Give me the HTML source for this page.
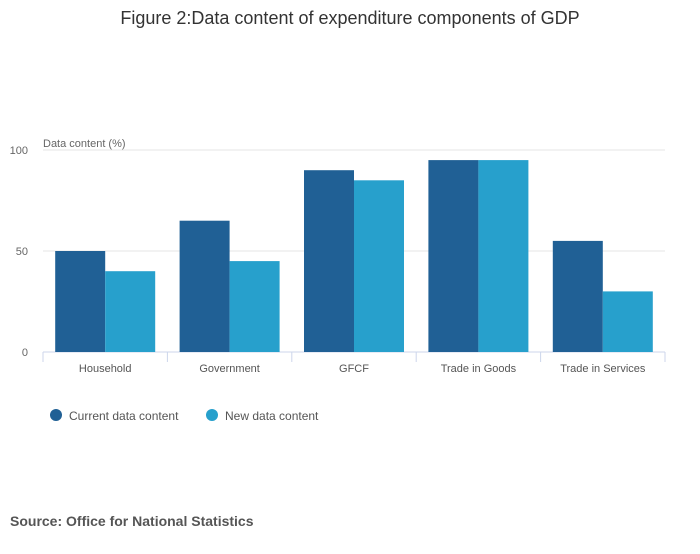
<!DOCTYPE html>
<html><head><meta charset="utf-8"><style>
body{margin:0;background:#fff;font-family:"Liberation Sans",sans-serif;}
</style></head><body>
<svg width="700" height="549" xmlns="http://www.w3.org/2000/svg" id="chart">
<text x="350" y="24" text-anchor="middle" font-size="18" fill="#333">Figure 2:Data content of expenditure components of GDP</text>
<text x="43" y="147" font-size="11" fill="#666">Data content (%)</text>
<text x="10" y="526" font-size="14" font-weight="bold" fill="#555">Source: Office for National Statistics</text>
<g id="grid"></g><g id="bars"></g><g id="axis"></g><g id="legend"></g>
</svg>
<script>
const categories=["Household","Government","GFCF","Trade in Goods","Trade in Services"];
const currentValues=[50,65,90,95,55];
const newValues=[40,45,85,95,30];
const yTicks=[0,50,100];
const seriesNames=["Current data content","New data content"];
const colors=["#206095","#27a0cc"];
const NS="http://www.w3.org/2000/svg";
const x0=43,x1=665,y0=352,y1=150;
const y=v=>y0-(v/100)*(y0-y1);
const cw=(x1-x0)/categories.length;
const bw=50;
function mk(t,a,p){const e=document.createElementNS(NS,t);for(const k in a)e.setAttribute(k,a[k]);p.appendChild(e);return e;}
const grid=document.getElementById('grid'),bars=document.getElementById('bars'),axis=document.getElementById('axis'),legend=document.getElementById('legend');
yTicks.forEach(t=>{
 const l=mk('line',{x1:x0,x2:x1,y1:y(t),y2:y(t),stroke:t===0?'#ccd6eb':'#e6e6e6'},grid);
 
 
 const tx=mk('text',{x:28,y:y(t)+4,'text-anchor':'end','font-size':11,fill:'#666'},grid);tx.textContent=t;
 
 
});
[currentValues,newValues].forEach((vals,s)=>{
 vals.forEach((v,i)=>{
  const bx=x0+i*cw+(cw-2*bw)/2+s*bw;
  const r=mk('rect',{x:bx,y:y(v),width:bw,height:y0-y(v),fill:colors[s]},bars);
  
  
 });
});
for(let i=0;i<=categories.length;i++){
 const xx=x0+i*cw;
 const l=mk('line',{x1:xx,x2:xx,y1:y0,y2:y0+10,stroke:'#ccd6eb'},axis);
 
 
}
categories.forEach((c,i)=>{
 const t=mk('text',{x:x0+(i+0.5)*cw,y:372,'text-anchor':'middle','font-size':11,fill:'#555'},axis);t.textContent=c;
 
 
});
const lx=[56,212];
seriesNames.forEach((n,s)=>{
 const g=mk('g',{},legend);
 
 
 mk('circle',{cx:lx[s],cy:415,r:6,fill:colors[s]},g);
 const t=mk('text',{x:lx[s]+13,y:420,'font-size':12,fill:'#555'},g);t.textContent=n;
});
</script>
</body></html>
